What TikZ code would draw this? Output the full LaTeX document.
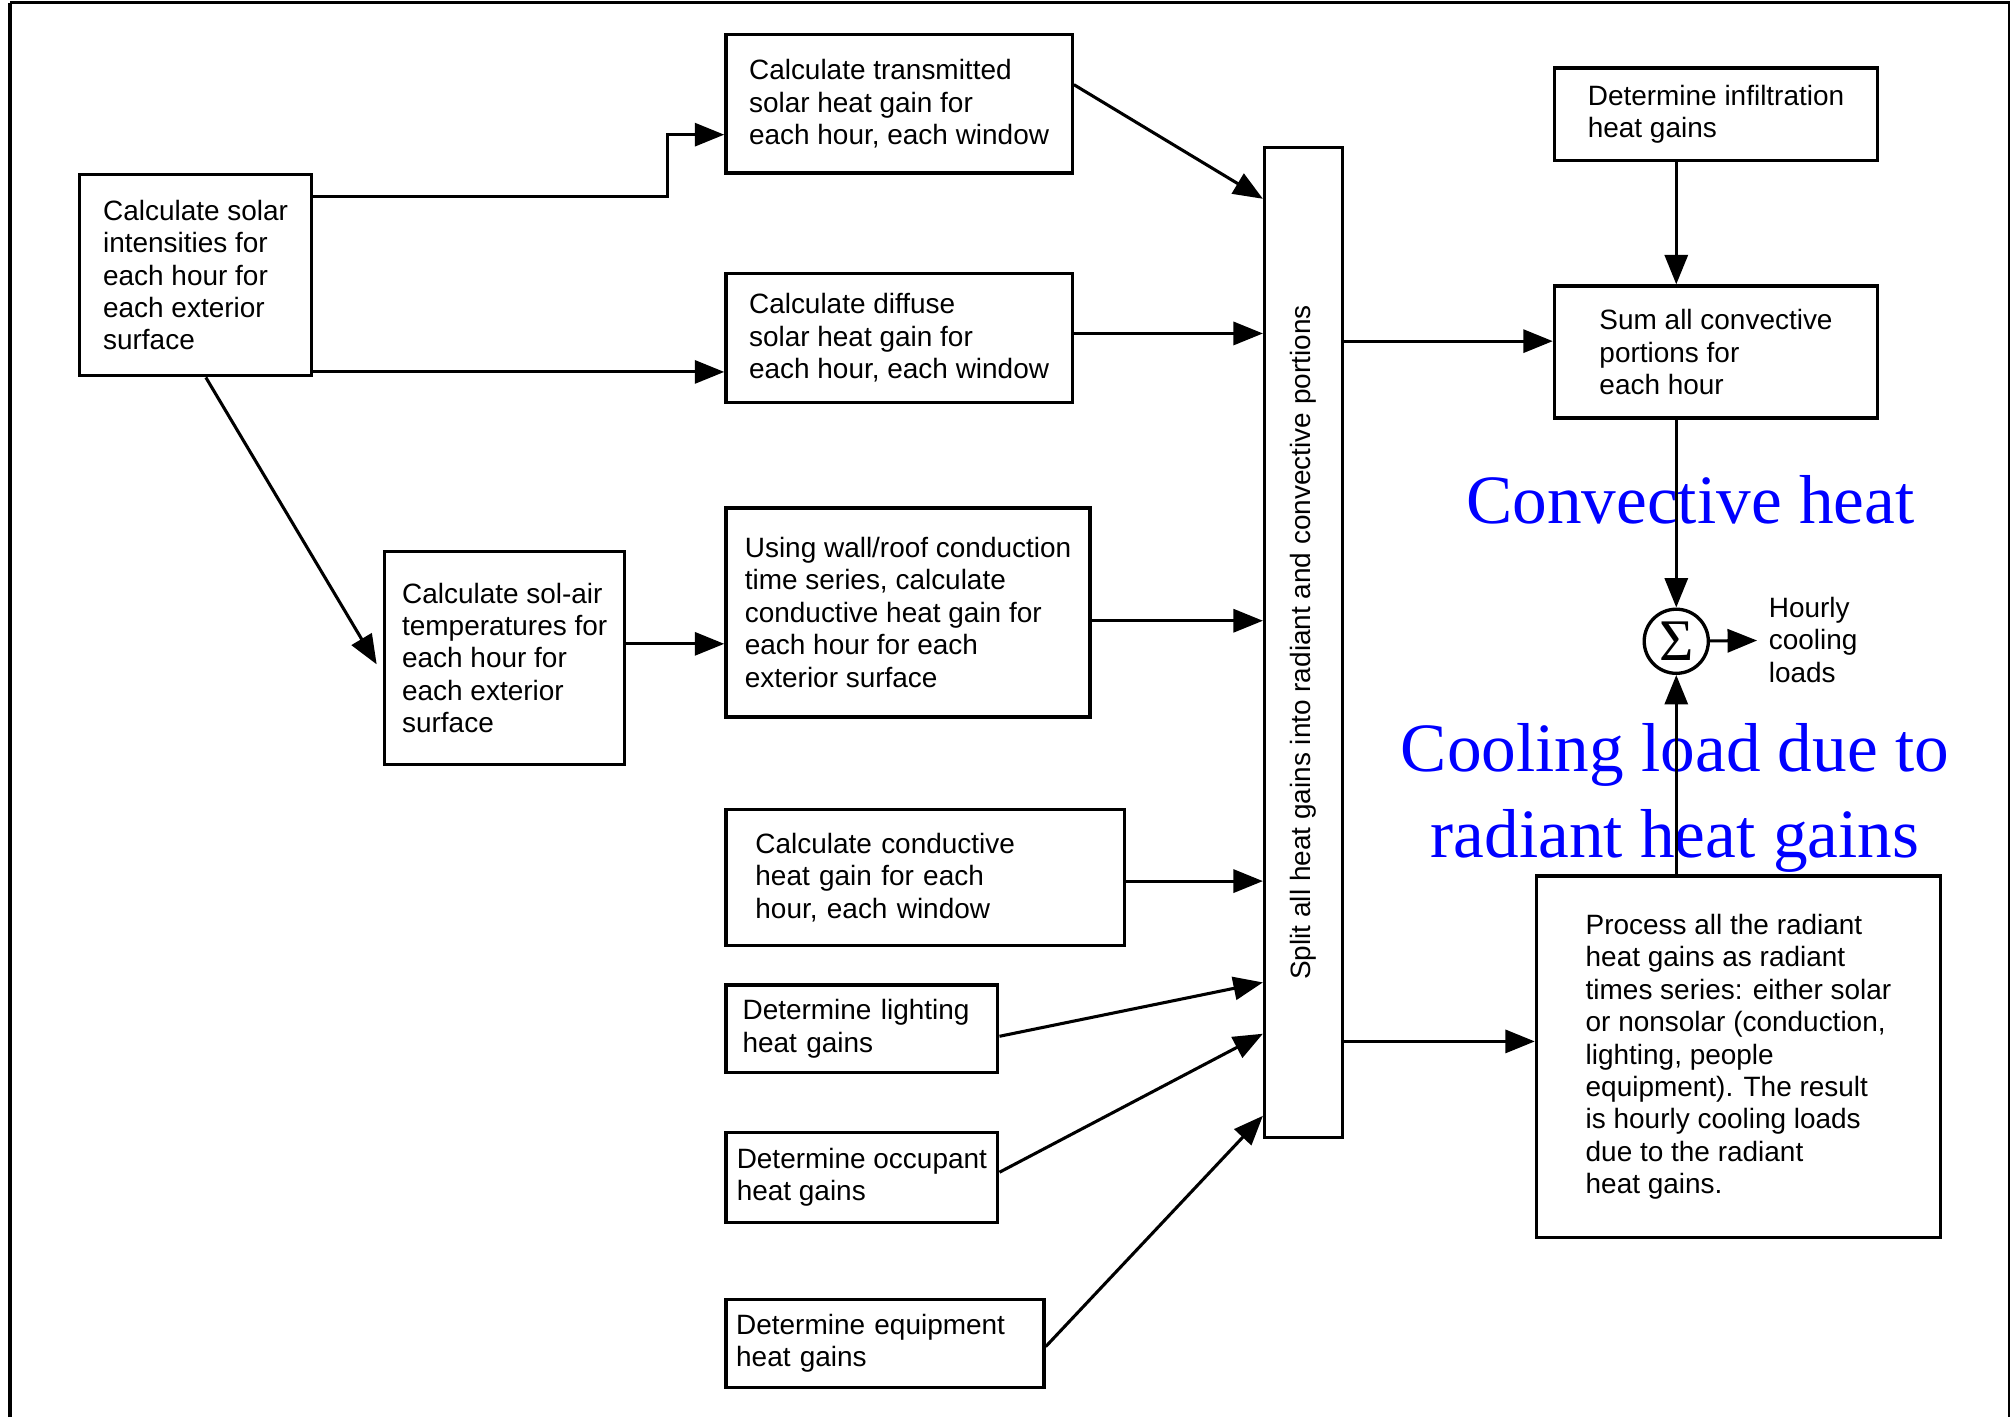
\documentclass[tikz,border=0pt]{standalone}
\usepackage{fontspec}
\usetikzlibrary{arrows.meta}
\newfontfamily\boxfont{Liberation Sans}
\newfontfamily\notefont{Liberation Serif}
\begin{document}
\begin{tikzpicture}[x=1pt,y=-1pt,
  box/.style={draw,line width=2.6pt,inner sep=0pt,align=left,font=\boxfont\fontsize{21.8}{25.3}\selectfont},
  arr/.style={line width=2.4pt,-{Triangle[length=23pt,width=18pt]}},
  note/.style={text=blue,align=center,inner sep=0pt,font=\notefont\fontsize{54}{67}\selectfont}]
\useasboundingbox (0,0) rectangle (1568,1105);
\draw[line width=3pt] (8,1105) -- (8,2);
\draw[line width=2pt] (8,2) -- (1566.5,2) -- (1566.5,1105);
\node[box,minimum width=181pt,minimum height=157pt] (sol) at (152.5,214.5) {Calculate solar\\intensities for\\each hour for\\each exterior\\surface};
\node[box,minimum width=270pt,minimum height=108pt] (trans) at (701,81) {Calculate transmitted\\solar heat gain for\\each hour, each window};
\node[box,minimum width=270pt,minimum height=101pt] (diff) at (701,263.5) {Calculate diffuse\\solar heat gain for\\each hour, each window};
\node[box,minimum width=187pt,minimum height=166pt] (solair) at (393.5,513) {Calculate sol-air\\temperatures for\\each hour for\\each exterior\\surface};
\node[box,minimum width=284pt,minimum height=163pt] (wall) at (708,477.5) {Using wall/roof conduction\\time series, calculate\\conductive heat gain for\\each hour for each\\exterior surface};
\node[box,text width=265pt,minimum width=311pt,minimum height=106pt] (win) at (721.5,684) {Calculate conductive\\heat gain for each\\hour, each window};
\node[box,text width=186pt,minimum width=212pt,minimum height=68pt] (light) at (672,802) {Determine lighting\\heat gains};
\node[box,minimum width=212pt,minimum height=70pt] (occ) at (672,918) {Determine occupant\\heat gains};
\node[box,text width=232pt,minimum width=248pt,minimum height=69pt] (equip) at (690,1047.5) {Determine equipment\\heat gains};
\node[box,minimum width=61pt,minimum height=772pt] (split) at (1016.5,501) {\rotatebox{90}{Split all heat gains into radiant and convective portions}};
\node[box,minimum width=252pt,minimum height=72pt] (infil) at (1338,89) {Determine infiltration\\heat gains};
\node[box,minimum width=252pt,minimum height=103pt] (sum) at (1338,274.5) {Sum all convective\\portions for\\each hour};
\node[box,minimum width=315pt,minimum height=282pt] (proc) at (1355.5,824) {Process all the radiant\\heat gains as radiant\\times series: either solar\\or nonsolar (conduction,\\lighting, people\\equipment). The result\\is hourly cooling loads\\due to the radiant\\heat gains.};
\node[box,circle,minimum size=50pt,font=\notefont\fontsize{46}{46}\selectfont] (sig) at (1307,500) {Σ};
\node[anchor=west,inner xsep=9pt,inner ysep=0pt,align=left,font=\boxfont\fontsize{21.8}{25.3}\selectfont] (hourly) at (1370,499) {Hourly\\cooling\\loads};
\node[note] (convlbl) at (1318,390) {Convective heat};
\node[note] (radlbl) at (1306,622) {Cooling load due to\\radiant heat gains};
\draw[arr] (sol.east |- 0,153) -- ++(276,0) |- (trans.west |- 0,105);
\draw[arr] (sol.east |- 0,290) -- (diff.west |- 0,290);
\draw[arr] ([xshift=8pt]sol.south) -- ([xshift=-5pt]solair.west |- 0,518);
\draw[arr] (solair.east |- 0,502) -- (wall.west |- 0,502);
\draw[arr] (trans.east |- 0,66) -- (split.west |- 0,155);
\draw[arr] (diff.east |- 0,260) -- (split.west |- 0,260);
\draw[arr] (wall.east |- 0,484) -- (split.west |- 0,484);
\draw[arr] (win.east |- 0,687) -- (split.west |- 0,687);
\draw[arr] (light.east |- 0,808) -- (split.west |- 0,766);
\draw[arr] (occ.east |- 0,914) -- (split.west |- 0,806);
\draw[arr] (equip.east |- 0,1050) -- (split.west |- 0,870);
\draw[arr] (split.east |- 0,266) -- (sum.west |- 0,266);
\draw[arr] (split.east |- 0,812) -- (proc.west |- 0,812);
\draw[arr] (infil.south -| sig) -- (sum.north -| sig);
\draw[arr] (sum.south -| sig) -- (sig);
\draw[arr] (proc.north -| sig) -- (sig);
\draw[arr] (sig) -- (hourly);
\end{tikzpicture}
\end{document}
